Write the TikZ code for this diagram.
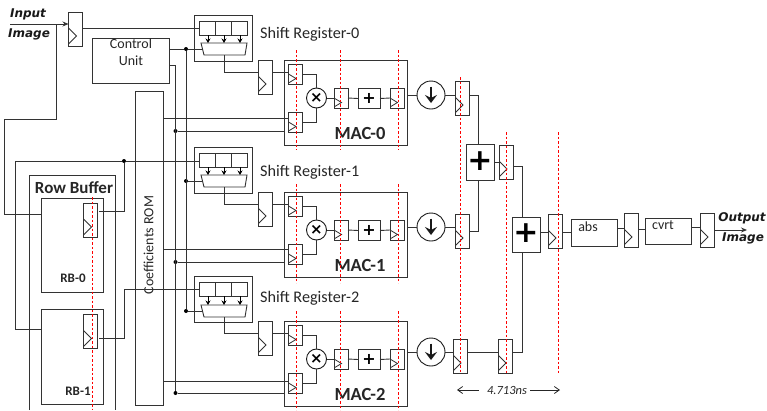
\documentclass[tikz,border=0pt]{standalone}
\usepackage{fontspec}
\setmainfont{Carlito}
\newfontfamily\iofont{DejaVu Sans}
\usepackage{xcolor}
\usetikzlibrary{arrows.meta,positioning,calc}

\begin{document}
\begin{tikzpicture}[x=1pt,y=-1pt,
  wire/.style={draw=black!80,line width=0.9pt},
  box/.style={draw=black!80,line width=0.9pt,rectangle,inner sep=0pt,outer sep=0pt},
  regt/.style={box,minimum width=14pt,minimum height=34pt,
    path picture={\draw[black!80,line width=0.8pt] ([yshift=1pt]path picture bounding box.west) -- ++(8pt,-8pt) -- ++(-8pt,-8pt);}},
  regs/.style={box,minimum width=14pt,minimum height=20pt,
    path picture={\draw[black!80,line width=0.8pt] (path picture bounding box.west) -- ++(7.5pt,-4.5pt) -- ++(-7.5pt,-4.5pt);}},
  mux/.style={inner sep=0pt,outer sep=0pt,minimum width=44pt,minimum height=12pt},
  cir/.style={draw=black!90,line width=0.9pt,circle,inner sep=0pt,outer sep=0pt},
  jn/.style={circle,fill=black,inner sep=0pt,minimum size=4pt},
  tick/.style={-{Stealth[length=4.5pt,width=5pt]},black,line width=0.8pt},
  dnarrow/.style={line width=2pt,black!90,-{Stealth[length=8pt,width=12pt,inset=3pt]}},
  redl/.style={dash pattern=on 2.5pt off 2pt,red,line width=0.8pt},
  lab/.style={inner sep=0pt,text=black!85,align=center,font=\fontsize{14}{17}\selectfont},
  labr/.style={inner sep=0pt,text=black!85,font=\fontsize{16.2}{19}\selectfont},
  labb/.style={inner sep=0pt,text=black!85,font=\fontsize{17}{20}\bfseries\selectfont},
  labm/.style={inner sep=0pt,text=black!85,font=\fontsize{18.5}{20}\bfseries\selectfont},
  labs/.style={inner sep=0pt,text=black!85,font=\fontsize{13}{15}\bfseries\selectfont},
  io/.style={inner sep=0pt,text=black!90,font=\iofont\fontsize{12}{14}\bfseries\itshape\selectfont},
  sym/.style={inner sep=0pt,font=\iofont\bfseries\fontsize{#1}{#1}\selectfont}]
  \useasboundingbox (0,0) rectangle (767,410);

  % input side
  \node[regt] (Rin) at (75.5,29) {};
  \coordinate (ia) at (10,24);
  \coordinate (ib) at (56,24);
  \node[io] (tin) at (28,14) {Input};
  \node[io] (tim) at (29,34) {Image};
  \draw[wire,-{Stealth[length=6pt,width=5pt]}] (ia) -- ([yshift=5pt]Rin.west);
  \node[box,minimum width=76.5pt,minimum height=45pt] (CU) at (130.75,60.5) {};
  \node[lab] (CUt) at (131,52.5) {Control\\Unit};
  \node[box,minimum width=28pt,minimum height=314pt] (ROM) at (149,248) {};
  \node[lab,rotate=90] (ROMt) at (148.5,245) {Coefficients ROM};

  % row buffer
  \draw[wire] (29.5,410) |- (115,175) -- (115,410);
  \node[labb] (RBt) at (74,188) {Row Buffer};
  \node[box,minimum width=62pt,minimum height=94pt] (RB0) at (72.7,245) {};
  \node[box,minimum width=62pt,minimum height=95pt] (RB1) at (72.7,356.5) {};
  \node[regt] (RR0) at (90.5,220) {};
  \node[regt] (RR1) at (90.5,331.5) {};
  \node[labs] (RBa) at (73,278) {RB-0};
  \node[labs] (RBb) at (78,391) {RB-1};
  \node[jn] (jb) at (124,161) {};
  \draw[wire] (ib) |- (4,119) |- ([yshift=31pt]RB0.west);
  \draw[wire] ([yshift=9pt,xshift=1.5pt]RR0.east) -| (jb);
  \draw[wire] (RB1.west |- 15,329) -| (15,161) -- (jb);

  \foreach \i/\y/\ro/\cu/\m/\tb in {0/0/118/131/49/38,1/132/249/262/181/176,2/261/381/393/311/302} {
    % shift register
    \node[box,minimum width=57.5pt,minimum height=46pt] (SR\i) at (223.25,\y+38) {};
    \foreach \j/\xx in {a/207,b/223,c/239}
      \node[box,minimum width=16pt,minimum height=14pt] (S\j\i) at (\xx,\y+28) {};
    \draw[wire] (201,\m-6) -- (247,\m-6) -- (245,\m+6) -- (204,\m+6) -- cycle;
    \node[mux] (Mx\i) at (224.5,\m) {};
    \foreach \j in {a,b,c}
      \draw[tick] ([xshift=1pt]S\j\i.south) -- ([xshift=1pt]S\j\i.south |- Mx\i.north);
    \node[labr,anchor=base west] (SRt\i) at (260,\tb) {Shift Register-\i};
    \node[jn] (jc\i) at (186,\m) {};
    \draw[wire] (jc\i) -- (Mx\i.west);
    % MAC unit
    \node[regt] (Rt\i) at (265,\y+77) {};
    \draw[wire] (Mx\i.south) |- ([yshift=5pt]Rt\i.west);
    \node[box,minimum width=123pt,minimum height=85pt] (MAC\i) at (345.5,\y+102.5) {};
    \node[regs] (Ra\i) at (295.5,\y+74) {};
    \node[regs] (Rb\i) at (295.5,\y+122) {};
    \node[cir,minimum size=20pt] (Mu\i) at (316.5,\y+98) {};
    \node[sym=15] (Mut\i) at (316.5,\y+97.5) {×};
    \node[regs] (Rc\i) at (341,\y+98) {};
    \node[box,minimum width=22pt,minimum height=20pt] (Ad\i) at (369,\y+98.5) {};
    \node[sym=16] (Adt\i) at (369,\y+98) {+};
    \node[regs] (Rd\i) at (397,\y+98) {};
    \node[labm] (MACt\i) at (360,\y+133) {MAC-\i};
    \draw[wire] ([yshift=5pt]Rt\i.east) -- ([yshift=2pt]Ra\i.west);
    \draw[wire] (Ra\i.east) -| (Mu\i.north);
    \draw[wire] (Rb\i.east) -| (Mu\i.south);
    \draw[wire] (Mu\i.east) -- (Rc\i.west);
    \draw[wire] (Rc\i.east) -- (Ad\i.west);
    \draw[wire] (Ad\i.east) -- (Rd\i.west);
    \coordinate (ro\i) at (163,\ro);
    \node[jn] (cu\i) at (175.5,\cu) {};
    \draw[wire] (ro\i) -- (Rb\i.west |- ro\i);
    \draw[wire] (cu\i) -- (MAC\i.west |- cu\i);
  }

  % control lines
  \draw[wire] ([yshift=11.5pt]CU.east) -- (jc0);
  \draw[wire] ([yshift=-4.5pt]CU.east) -| (cu2);
  \draw[wire] (jc0) -- (jc2);
  % data into shift registers
  \draw[wire] (Sa0.west -| Rin.east) -- (Sa0.west);
  \draw[wire] (jb) -- (Sa1.west |- jb);
  \draw[wire] ([yshift=-7pt,xshift=1.5pt]RR1.east) -| (124,289) -- (Sa2.west);

  % shifters and adder tree
  \node[cir,minimum size=28pt] (Dn0) at (431,95) {};
  \node[cir,minimum size=28pt] (Dn1) at (431,227) {};
  \node[cir,minimum size=28pt] (Dn2) at (431,352) {};
  \foreach \i in {0,1,2} {
    \draw[dnarrow] ([yshift=8.5pt]Dn\i.center) -- ([yshift=-8pt]Dn\i.center);
    \draw[wire] (Dn\i.west) -- (Dn\i.west -| MAC\i.east);
  }
  \node[regt] (Rs0) at (462,98) {};
  \node[regt] (Rs1) at (462,231) {};
  \node[regt] (Rs2) at (460,356) {};
  \node[regt] (Rt2b) at (505,356) {};
  \node[box,minimum width=28pt,minimum height=36pt] (AddA) at (480,162) {};
  \node[sym=30] (AddAt) at (480,161) {+};
  \node[regt] (RA) at (506,162) {};
  \node[box,minimum width=28pt,minimum height=35pt] (AddB) at (526,234.5) {};
  \node[sym=30] (AddBt) at (526,233.5) {+};
  \node[regt] (RB) at (555,231) {};
  \draw[wire] (Dn0.east) -- ([yshift=3pt]Rs0.west);
  \draw[wire] (Dn1.east) -- (Rs1.west |- Dn1.east);
  \draw[wire] (Dn2.east) -- (Rs2.west |- Dn2.east);
  \draw[wire] ([yshift=3pt]Rs0.east) -| ([xshift=-1.5pt]AddA.north);
  \draw[wire] ([xshift=-1.5pt]AddA.south) |- (Rs1.east);
  \draw[wire] (AddA.east) -- (RA.west);
  \draw[wire] ([yshift=-4pt]RA.east) -| ([xshift=-4pt]AddB.north);
  \draw[wire] ([yshift=4pt]Rs2.east) -- ([yshift=4pt]Rt2b.west);
  \draw[wire] ([yshift=4pt]Rt2b.east) -| ([xshift=-4pt]AddB.south);
  \draw[wire] ([yshift=2.5pt]AddB.east) -- (RB.west |- 540,232);

  % output stages
  \node[box,minimum width=46pt,minimum height=27pt] (Abs) at (594,232.5) {};
  \node[lab] (Abst) at (588,227) {abs};
  \node[regt] (RC) at (631,230) {};
  \node[box,minimum width=46pt,minimum height=26pt] (Cvt) at (668,231) {};
  \node[lab] (Cvtt) at (663,225) {cvrt};
  \node[regt] (RE) at (707,230) {};
  \coordinate (oe) at (747,230);
  \draw[wire] (RB.east |- Abs.west) -- (Abs.west);
  \draw[wire] ([yshift=4pt]Abs.east) -- (RC.west |- 617,228.5);
  \draw[wire] (RC.east |- 640,229) -- (Cvt.west |- 640,229);
  \draw[wire] ([yshift=4pt]Cvt.east) -- (RE.west |- 691,227);
  \draw[wire,-{Stealth[length=6pt,width=5pt]}] (RE.east) -- (oe);
  \node[io] (tou) at (742,218) {Output};
  \node[io] (tim2) at (743,238) {Image};

  % timing
  \node[inner sep=0pt,font=\fontsize{12.5}{14}\itshape\selectfont,text=black!85] (tt) at (507,390) {4.713ns};
  \coordinate (ta) at (457,390);
  \coordinate (tb) at (560,390);
  \draw[black!85,line width=0.8pt,-{Straight Barb[length=5pt,width=7pt]}] ([xshift=-8pt]tt.west) -- (ta);
  \draw[black!85,line width=0.8pt,-{Straight Barb[length=5pt,width=7pt]}] ([xshift=3pt]tt.east) -- (tb);

  % pipeline cuts
  \foreach \xx in {296,340,398} {
    \draw[redl] (\xx,50) -- (\xx,150);
    \draw[redl] (\xx,184) -- (\xx,283);
    \draw[redl] (\xx,311) -- (\xx,410);
  }
  \draw[redl] (460,77) -- (460,373);
  \draw[redl] (506,132) -- (506,373);
  \draw[redl] (558,132) -- (558,374);
  \draw[redl] (92,197) -- (92,410);
\end{tikzpicture}
\end{document}
